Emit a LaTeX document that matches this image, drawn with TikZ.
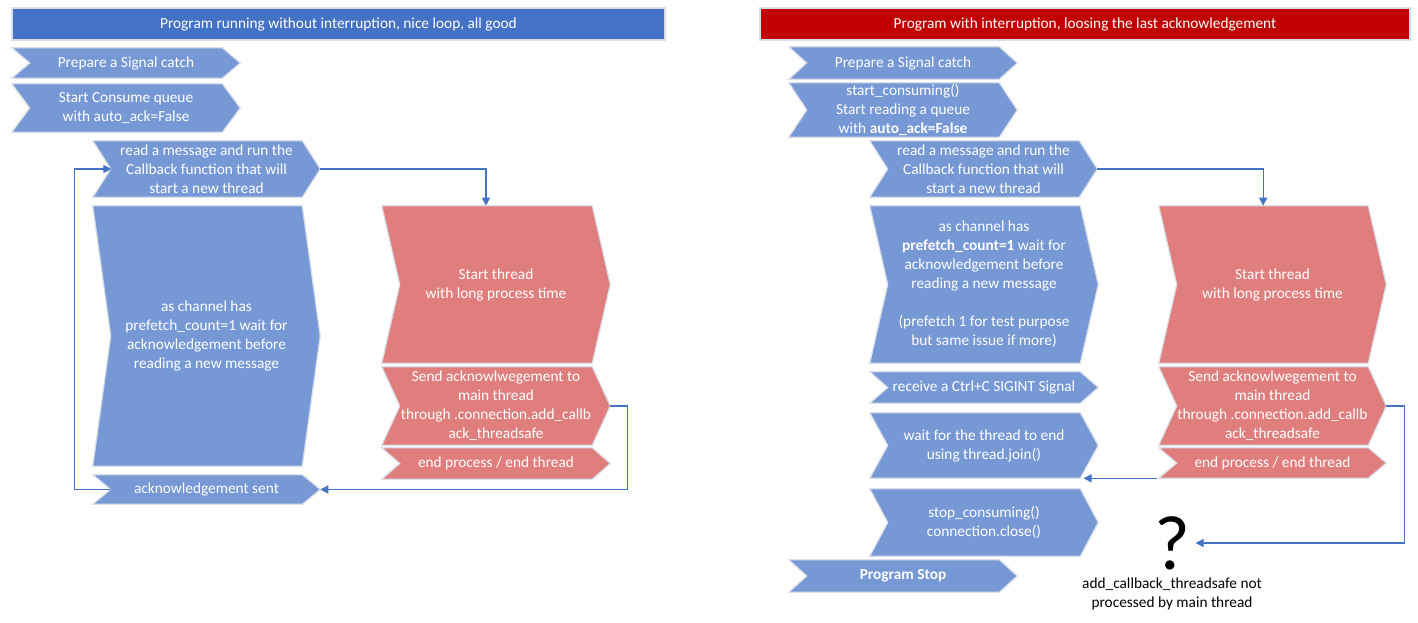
\documentclass[tikz,border=0pt]{standalone}
\usepackage{fontspec}
\setmainfont{Carlito}
\usetikzlibrary{arrows.meta,backgrounds}
\definecolor{chb}{HTML}{7698D4}
\definecolor{chr}{HTML}{E07E7E}
\definecolor{ttb}{HTML}{4472C4}
\definecolor{ttr}{HTML}{C00000}
\definecolor{ln}{HTML}{4472C4}
\definecolor{edge}{HTML}{D9DEE8}
\tikzset{
  box/.style={inner sep=0pt, align=center, text=white, font=\fontsize{11.5}{14.25}\selectfont},
  area/.style n args={4}{minimum width={(#3-#1)*0.75pt}, minimum height={(#4-#2)*0.75pt},
     at={({(#1+#3)/2},{(#2+#4)/2})}},
  titlebar/.style={box, draw=edge, line width=0.8pt},
  conn/.style={draw=ln, line width=0.9pt, -{Triangle[length=6pt,width=6pt]}},
}
\newcommand\chevpath[2]{%
  \filldraw[fill=#2, draw=edge, line width=0.9pt, line join=miter]
    (#1.north west) -- ([xshift=-13.5pt]#1.north east) -- (#1.east)
    -- ([xshift=-13.5pt]#1.south east) -- (#1.south west)
    -- ([xshift=13.5pt]#1.west) -- cycle;}
\begin{document}
\begin{tikzpicture}[x=0.75pt, y=-0.75pt]
\useasboundingbox (0,0) rectangle (1418,623);
% ---------- left panel ----------
\node[titlebar, fill=ttb, area={12}{8}{665}{40}] (lt) {Program running without interruption, nice loop, all good};
\node[box, area={12}{48}{240}{78}] (l1) {Prepare a Signal catch};
\node[box, area={12}{84}{240}{132}] (l2) {Start Consume queue\\with auto\_ack=False};
\node[box, area={93}{141}{320}{197}] (l3) {read a message and run the\\Callback function that will\\start a new thread};
\node[box, area={93}{206}{320}{466}] (l4) {as channel has\\prefetch\_count=1 wait for\\acknowledgement before\\reading a new message};
\node[box, area={93}{475}{320}{504}] (l5) {acknowledgement sent};
\node[box, area={382}{206}{610}{363}] (l6) {Start thread\\with long process time};
\node[box, area={382}{367}{610}{445}] (l7) {Send acknowlwegement to\\main thread\\through .connection.add\_callb\\ack\_threadsafe};
\node[box, area={382}{448}{610}{479}] (l8) {end process / end thread};
% ---------- right panel ----------
\node[titlebar, fill=ttr, area={760}{8}{1410}{40}] (rt) {Program with interruption, loosing the last acknowledgement};
\node[box, area={789}{47}{1017}{79}] (r1) {Prepare a Signal catch};
\node[box, area={789}{83}{1017}{137}] (r2) {start\_consuming()\\Start reading a queue\\with \textbf{auto\_ack=False}};
\node[box, area={870}{141}{1097}{197}] (r3) {read a message and run the\\Callback function that will\\start a new thread};
\node[box, area={870}{206}{1098}{363}] (r4) {as channel has\\\textbf{prefetch\_count=1} wait for\\acknowledgement before\\reading a new message\\[14.25pt](prefetch 1 for test purpose\\but same issue if more)};
\node[box, area={870}{372}{1098}{403}] (r5) {receive a Ctrl+C SIGINT Signal};
\node[box, area={870}{413}{1098}{478}] (r6) {wait for the thread to end\\using thread.join()};
\node[box, area={870}{489}{1098}{556}] (r7) {stop\_consuming()\\connection.close()};
\node[box, area={789}{560}{1017}{592}] (r8) {\textbf{Program Stop}};
\node[box, area={1159}{206}{1386}{363}] (r9) {Start thread\\with long process time};
\node[box, area={1159}{367}{1386}{445}] (r10) {Send acknowlwegement to\\main thread\\through .connection.add\_callb\\ack\_threadsafe};
\node[box, area={1159}{448}{1386}{478}] (r11) {end process / end thread};
\node[inner sep=0pt, text=black, font=\fontsize{58}{58}\selectfont] (q) at (1172,543) {?};
\node[inner sep=0pt, align=center, text=black, font=\fontsize{11.5}{14.25}\selectfont] (qt) at (1172,594) {add\_callback\_threadsafe not\\processed by main thread};
% ---------- chevron shapes ----------
\begin{pgfonlayer}{background}
\foreach \n in {l1,l2,l3,l4,l5,r1,r2,r3,r4,r5,r6,r7,r8} {\chevpath{\n}{chb}}
\foreach \n in {l6,l7,l8,r9,r10,r11} {\chevpath{\n}{chr}}
\end{pgfonlayer}
% ---------- connectors ----------
\draw[conn] (l3.east) -| ([xshift=-7.5pt]l6.north);
\draw[conn] (l7.east) -- ++(17,0) |- (l5.east);
\draw[conn] ([xshift=14pt]l5.west) -- ++(-37,0) |- ([xshift=14pt]l3.west);
\draw[conn] (r3.east) -| ([xshift=-7pt]r9.north);
\draw[conn] ([xshift=-1.5pt]r11.south west) -- ([xshift=-11pt]r6.south east);
\draw[conn] (r10.east) -- ++(18,0) |- ([xshift=4pt]q.east);
\end{tikzpicture}
\end{document}
